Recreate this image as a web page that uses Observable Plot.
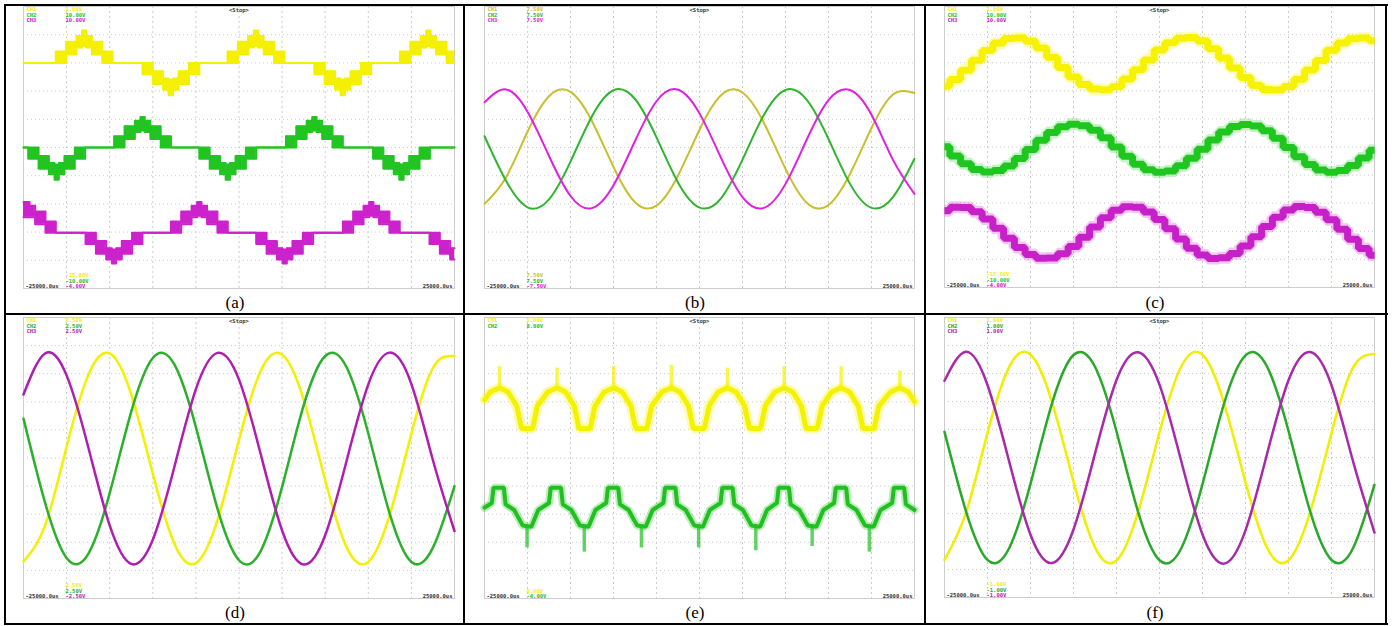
<!DOCTYPE html>
<html><head><meta charset="utf-8">
<script src="https://cdn.jsdelivr.net/npm/d3@7"></script>
<script src="https://cdn.jsdelivr.net/npm/@observablehq/plot@0.6"></script>
<style>
html,body{margin:0;padding:0;background:#fff;}
#page{position:relative;width:1397px;height:626px;overflow:hidden;background:#fff;}
.bar{position:absolute;background:#000;}
.cap{position:absolute;font-family:"Liberation Serif","Times New Roman",serif;font-size:17px;line-height:17px;color:#000;transform:translateX(-50%);white-space:nowrap;}
.scr{position:absolute;}
.scr svg{overflow:visible;display:block;}
</style></head><body><div id="page"></div>
<script>
// ================= DATA (time in ms, value in screen divisions) =================
const gridTimes = [-20,-15,-10,-5,0,5,10,15,20];
const gridDivs = [-4,-3,-2,-1,0,1,2,3,4];
const timeLabels = ["-25000.0us","25000.0us"];
const runLabel = "<Stop>";
const chNames = ["CH1","CH2","CH3"];
const panelTags = ["(a)","(b)","(c)","(d)","(e)","(f)"];
const scaleA = ["1.00V","10.00V","10.00V"], offA = ["-15.00V","-10.00V","-4.00V"];
const scaleB = ["7.50V","7.50V","7.50V"],  offB = ["7.50V","7.50V","-7.50V"];
const scaleC = ["1.00V","10.00V","10.00V"], offC = ["-15.00V","-10.00V","-4.00V"];
const scaleD = ["2.50V","2.50V","2.50V"],  offD = ["2.50V","2.50V","-2.50V"];
const scaleE = ["1.00V","8.00V"],          offE = ["8.00V","-4.00V"];
const scaleF = ["1.00V","1.00V","1.00V"],  offF = ["-1.00V","-1.00V","-1.00V"];

// (a) stepped multilevel traces: [time, band low, band high]
const aYellow = [
[-25,3.0,3.0],
[-21.26,3.0,3.4],[-20.06,3.3,3.75],[-18.86,3.55,3.95],[-18.21,3.6,4.15],[-17.71,3.55,3.95],[-17.06,3.3,3.75],[-15.86,3.0,3.4],[-14.66,3.0,3.0],
[-11.2,2.6,3.0],[-10.0,2.25,2.7],[-8.8,2.05,2.45],[-8.15,1.85,2.4],[-7.65,2.05,2.45],[-7.0,2.25,2.7],[-5.8,2.6,3.0],[-4.6,3.0,3.0],
[-1.33,3.0,3.4],[-0.13,3.3,3.75],[1.07,3.55,3.95],[1.72,3.6,4.15],[2.22,3.55,3.95],[2.87,3.3,3.75],[4.07,3.0,3.4],[5.27,3.0,3.0],
[8.74,2.6,3.0],[9.94,2.25,2.7],[11.14,2.05,2.45],[11.79,1.85,2.4],[12.29,2.05,2.45],[12.94,2.25,2.7],[14.14,2.6,3.0],[15.34,3.0,3.0],
[18.68,3.0,3.4],[19.88,3.3,3.75],[21.08,3.55,3.95],[21.73,3.6,4.15],[22.23,3.55,3.95],[22.88,3.3,3.75],[24.08,3.0,3.4],[25,3.0,3.4]
];
const aGreen = [
[-25,0,0],
[-24.45,-0.4,0],[-23.25,-0.75,-0.3],[-22.05,-0.95,-0.55],[-21.4,-1.14,-0.6],[-20.9,-0.95,-0.55],[-20.25,-0.75,-0.3],[-19.05,-0.4,0],[-17.85,0,0],
[-14.48,0,0.4],[-13.28,0.3,0.75],[-12.08,0.55,0.95],[-11.43,0.6,1.08],[-10.93,0.55,0.95],[-10.28,0.3,0.75],[-9.08,0,0.4],[-7.88,0,0],
[-4.6,-0.4,0],[-3.4,-0.75,-0.3],[-2.2,-0.95,-0.55],[-1.55,-1.14,-0.6],[-1.05,-0.95,-0.55],[-0.4,-0.75,-0.3],[0.8,-0.4,0],[2.0,0,0],
[5.45,0,0.4],[6.65,0.3,0.75],[7.85,0.55,0.95],[8.5,0.6,1.08],[9.0,0.55,0.95],[9.65,0.3,0.75],[10.85,0,0.4],[12.05,0,0],
[15.55,-0.4,0],[16.75,-0.75,-0.3],[17.95,-0.95,-0.55],[18.6,-1.14,-0.6],[19.1,-0.95,-0.55],[19.75,-0.75,-0.3],[20.95,-0.4,0],[22.15,0,0],
[25,0,0]
];
const aMagenta = [
[-25,-2.47,-1.93],[-24.3,-2.47,-2.07],[-23.65,-2.72,-2.27],[-22.45,-3.02,-2.62],[-21.25,-3.02,-3.02],
[-17.8,-3.42,-3.02],[-16.6,-3.77,-3.32],[-15.4,-3.97,-3.57],[-14.75,-4.11,-3.62],[-14.25,-3.97,-3.57],[-13.6,-3.77,-3.32],[-12.4,-3.42,-3.02],[-11.2,-3.02,-3.02],
[-7.9,-3.02,-2.62],[-6.7,-2.72,-2.27],[-5.5,-2.47,-2.07],[-4.85,-2.42,-1.93],[-4.35,-2.47,-2.07],[-3.7,-2.72,-2.27],[-2.5,-3.02,-2.62],[-1.3,-3.02,-3.02],
[2.0,-3.42,-3.02],[3.2,-3.77,-3.32],[4.4,-3.97,-3.57],[5.05,-4.11,-3.62],[5.55,-3.97,-3.57],[6.2,-3.77,-3.32],[7.4,-3.42,-3.02],[8.6,-3.02,-3.02],
[12.05,-3.02,-2.62],[13.25,-2.72,-2.27],[14.45,-2.47,-2.07],[15.1,-2.42,-1.93],[15.6,-2.47,-2.07],[16.25,-2.72,-2.27],[17.45,-3.02,-2.62],[18.65,-3.02,-3.02],
[22.1,-3.42,-3.02],[23.3,-3.77,-3.32],[24.5,-3.97,-3.57],[25,-3.97,-3.57]
];

// sample times (2.5 ms) for the sinusoidal panels
const tS = [-25,-22.5,-20,-17.5,-15,-12.5,-10,-7.5,-5,-2.5,0,2.5,5,7.5,10,12.5,15,17.5,20,22.5,25];
const bYellow  = [-2.00,-1.06,0.56,1.82,1.97,0.93,-0.69,-1.94,-2.06,-1.00,0.63,1.85,1.95,0.87,-0.76,-1.97,-2.04,-0.94,0.69,1.88,1.93];
const bGreen   = [0.40,-1.18,-2.12,-1.84,-0.50,1.11,2.03,1.72,0.36,-1.24,-2.13,-1.80,-0.43,1.16,2.04,1.68,0.30,-1.29,-2.14,-1.76,-0.40];
const bMagenta = [1.60,2.06,1.27,-0.30,-1.72,-2.15,-1.34,0.23,1.64,2.05,1.21,-0.37,-1.76,-2.14,-1.29,0.30,1.68,2.04,1.16,-0.44,-1.65];
const dYellow  = [-3.68,-2.40,0.40,2.94,3.72,2.26,-0.56,-3.05,-3.74,-2.21,0.64,3.09,3.68,2.07,-0.79,-3.19,-3.70,-2.01,0.87,3.21,3.63];
const dGreen   = [1.40,-1.59,-3.56,-3.42,-1.25,1.65,3.56,3.33,1.10,-1.80,-3.64,-3.32,-1.03,1.87,3.63,3.22,0.87,-2.00,-3.70,-3.19,-1.00];
const dMagenta = [2.26,3.72,2.94,0.40,-2.40,-3.77,-2.91,-0.32,2.45,3.74,2.79,0.16,-2.58,-3.79,-2.75,-0.08,2.62,3.75,2.63,-0.08,-2.60];
const fYellow  = [-3.66,-1.97,0.88,3.22,3.68,1.98,-0.86,-3.21,-3.68,-1.96,0.90,3.23,3.67,1.95,-0.89,-3.22,-3.67,-1.97,0.87,3.21,3.70];
const fGreen   = [0.92,-1.92,-3.66,-3.25,-0.94,1.93,3.66,3.24,0.93,-1.93,-3.67,-3.26,-0.95,1.92,3.65,3.25,0.95,-1.91,-3.66,-3.24,-0.97];
const fMagenta = [2.74,3.78,2.59,-0.12,-2.76,-3.77,-2.57,0.14,2.77,3.76,2.60,-0.10,-2.75,-3.79,-2.60,0.12,2.76,3.77,2.58,-0.13,-2.68];

// (c) sample times (1.25 ms), staircase traces
const tC = [-25,-23.75,-22.5,-21.25,-20,-18.75,-17.5,-16.25,-15,-13.75,-12.5,-11.25,-10,-8.75,-7.5,-6.25,-5,-3.75,-2.5,-1.25,0,1.25,2.5,3.75,5,6.25,7.5,8.75,10,11.25,12.5,13.75,15,16.25,17.5,18.75,20,21.25,22.5,23.75,25];
const cYellow = [2.16,2.40,2.73,3.09,3.43,3.70,3.86,3.88,3.76,3.52,3.19,2.83,2.49,2.22,2.06,2.04,
                 2.14,2.42,2.75,3.10,3.45,3.71,3.87,3.90,3.77,3.50,3.17,2.81,2.47,2.20,2.05,2.03,
                 2.15,2.41,2.74,3.08,3.44,3.70,3.85,3.88,3.78];
const cGreen = [0.01,-0.32,-0.60,-0.80,-0.89,-0.84,-0.68,-0.41,-0.09,0.24,0.52,0.72,0.81,0.76,0.60,0.33,
                0.00,-0.33,-0.61,-0.81,-0.90,-0.85,-0.67,-0.40,-0.08,0.25,0.53,0.73,0.80,0.75,0.58,0.31,
                -0.02,-0.35,-0.62,-0.82,-0.90,-0.84,-0.66,-0.39,-0.12];
const cMagenta = [-2.27,-2.14,-2.15,-2.30,-2.56,-2.89,-3.25,-3.58,-3.83,-3.96,-3.95,-3.80,-3.54,-3.21,-2.85,-2.52,
                  -2.25,-2.13,-2.14,-2.31,-2.58,-2.91,-3.27,-3.60,-3.84,-3.97,-3.94,-3.79,-3.52,-3.19,-2.83,-2.50,
                  -2.24,-2.12,-2.15,-2.32,-2.59,-2.93,-3.28,-3.61,-3.85];

// (e) traces: [time, value]
const eYellow = [
[-25,2.07],
[-24.35,2.35],[-23.25,2.5],[-22.25,2.35],[-21.25,1.85],[-20.7,1.05],[-19.4,1.05],[-18.85,1.85],
[-17.66,2.35],[-16.56,2.5],[-15.56,2.35],[-14.56,1.85],[-14.01,1.05],[-12.71,1.05],[-12.16,1.85],
[-11.07,2.35],[-9.97,2.5],[-8.97,2.35],[-7.97,1.85],[-7.42,1.05],[-6.12,1.05],[-5.57,1.85],
[-4.38,2.35],[-3.28,2.5],[-2.28,2.35],[-1.28,1.85],[-0.73,1.05],[0.57,1.05],[1.12,1.85],
[2.15,2.35],[3.25,2.5],[4.25,2.35],[5.25,1.85],[5.8,1.05],[7.1,1.05],[7.65,1.85],
[8.75,2.35],[9.85,2.5],[10.85,2.35],[11.85,1.85],[12.4,1.05],[13.7,1.05],[14.25,1.85],
[15.36,2.35],[16.46,2.5],[17.46,2.35],[18.46,1.85],[19.01,1.05],[20.31,1.05],[20.86,1.85],
[22.2,2.35],[23.3,2.5],[24.3,2.35],[25,2.0]
];
const eGreen = [
[-25,-1.77],
[-24.15,-1.6],[-23.95,-1.06],[-22.75,-1.06],[-22.55,-1.65],[-21.55,-1.85],[-20.55,-2.4],[-19.55,-2.45],[-18.75,-1.85],
[-17.5,-1.6],[-17.3,-1.06],[-16.1,-1.06],[-15.9,-1.65],[-14.9,-1.85],[-13.9,-2.4],[-12.9,-2.45],[-12.1,-1.85],
[-10.85,-1.6],[-10.65,-1.06],[-9.45,-1.06],[-9.25,-1.65],[-8.25,-1.85],[-7.25,-2.4],[-6.25,-2.45],[-5.45,-1.85],
[-4.2,-1.6],[-4.0,-1.06],[-2.8,-1.06],[-2.6,-1.65],[-1.6,-1.85],[-0.6,-2.4],[0.4,-2.45],[1.2,-1.85],
[2.45,-1.6],[2.65,-1.06],[3.85,-1.06],[4.05,-1.65],[5.05,-1.85],[6.05,-2.4],[7.05,-2.45],[7.85,-1.85],
[9.0,-1.6],[9.2,-1.06],[10.4,-1.06],[10.6,-1.65],[11.6,-1.85],[12.6,-2.4],[13.6,-2.45],[14.4,-1.85],
[15.65,-1.6],[15.85,-1.06],[17.05,-1.06],[17.25,-1.65],[18.25,-1.85],[19.25,-2.4],[20.25,-2.45],[21.05,-1.85],
[22.4,-1.6],[22.6,-1.06],[23.8,-1.06],[24.0,-1.65],[25,-1.85]
];
// (e) switching spikes: [time, from, to]
const eYellowSpikes = [[-23.25,2.45,3.25],[-16.56,2.45,3.2],[-9.97,2.45,3.25],[-3.28,2.45,3.3],[3.25,2.45,3.2],[9.85,2.45,3.25],[16.46,2.45,3.25],[23.3,2.45,3.1]];
const eGreenSpikes = [[-20.05,-2.4,-3.2],[-13.4,-2.4,-3.35],[-6.75,-2.4,-3.2],[-0.1,-2.4,-3.2],[6.55,-2.4,-3.3],[13.1,-2.4,-3.15],[19.75,-2.4,-3.35]];

// ================= RENDERING =================
const page = document.getElementById("page");
const MONO = "DejaVu Sans Mono, monospace";

function lbl(text, anchor, dx, dy, fill, textAnchor) {
  return Plot.text([text], {text: d => d, frameAnchor: anchor, dx, dy, fill,
    fontSize: 5.5, fontFamily: MONO, fontWeight: "bold", textAnchor: textAnchor || "start", lineAnchor: "middle"});
}
function labels(colors, scale, off) {
  const m = [];
  scale.forEach((s, i) => {
    m.push(lbl(chNames[i], "top-left", 3, 3 + 5.5 * i, colors[i]));
    m.push(lbl(s, "top-left", 42, 3 + 5.5 * i, colors[i]));
  });
  const n = off.length;
  off.forEach((s, i) => m.push(lbl(s, "bottom-left", 42, -2.5 - 5.2 * (n - 1 - i), colors[i])));
  m.push(lbl(timeLabels[0], "bottom-left", 2, -2.5, "#333"));
  m.push(lbl(timeLabels[1], "bottom-right", -2, -2.5, "#333", "end"));
  m.push(lbl(runLabel, "top", 0, 4, "#333", "middle"));
  return m;
}
function scope(w, h, marks) {
  return Plot.plot({
    width: w, height: h, margin: 0,
    x: {domain: [-25, 25], axis: null},
    y: {domain: [-5, 5], axis: null},
    style: {background: "#fff", overflow: "visible"},
    marks: [
      Plot.ruleX(gridTimes, {stroke: "#c6c6c6", strokeWidth: 0.9, strokeDasharray: "2,3"}),
      Plot.ruleY(gridDivs, {stroke: "#c6c6c6", strokeWidth: 0.9, strokeDasharray: "1,3"}),
      Plot.frame({stroke: "#cdcdcd", strokeWidth: 1}),
      ...marks
    ]
  });
}
const rows3 = arr => arr.map(([t, lo, hi]) => ({t, lo, hi}));
const rows2 = arr => arr.map(([t, v]) => ({t, v}));
const zipRows = (t, vals) => t.map((x, i) => ({t: x, v: vals[i]}));

function stepBand(arr, color) {
  const r = rows3(arr);
  return [
    Plot.areaY(r, {x: "t", y1: "lo", y2: "hi", curve: "step-after", fill: color}),
    Plot.line(r, {x: "t", y: "lo", curve: "step-after", stroke: color, strokeWidth: 2}),
    Plot.line(r, {x: "t", y: "hi", curve: "step-after", stroke: color, strokeWidth: 2})
  ];
}
function sineLines(t, series, colors, sw) {
  return series.map((vals, i) => Plot.line(zipRows(t, vals), {x: "t", y: "v", curve: "natural", stroke: colors[i], strokeWidth: sw}));
}
function stairLines(t, series, colors) {
  const m = [];
  series.forEach((vals, i) => {
    const r = zipRows(t, vals);
    m.push(Plot.line(r, {x: "t", y: "v", curve: "step", stroke: colors[i], strokeWidth: 12, strokeOpacity: 0.25, strokeLinejoin: "miter", strokeLinecap: "butt"}));
    m.push(Plot.line(r, {x: "t", y: "v", curve: "step", stroke: colors[i], strokeWidth: 7, strokeLinejoin: "miter", strokeLinecap: "butt"}));
  });
  return m;
}
function noisyLine(arr, spikes, color, core, halo) {
  const r = rows2(arr);
  const s = spikes.map(([t, a, b]) => ({t, a, b}));
  return [
    Plot.ruleX(s, {x: "t", y1: "a", y2: "b", stroke: color, strokeWidth: 3.5, strokeOpacity: 0.7}),
    Plot.line(r, {x: "t", y: "v", stroke: color, strokeWidth: halo, strokeOpacity: 0.3, strokeLinejoin: "miter"}),
    Plot.line(r, {x: "t", y: "v", stroke: color, strokeWidth: core, strokeLinejoin: "miter"})
  ];
}

const colA = ["#f4f000", "#22c422", "#cc22cc"];
const colB = ["#c8bf2e", "#30b530", "#e020e0"];
const colC = ["#f6f200", "#20c620", "#c820c8"];
const colD = ["#f3f000", "#2bb02b", "#b01eb0"];
const colE = ["#f5f200", "#20c020"];
const colF = ["#f1ee00", "#2aa82a", "#a82aa8"];

const screens = [
  {left: 23, top: 6, w: 431, h: 282, marks: [...stepBand(aYellow, colA[0]), ...stepBand(aGreen, colA[1]), ...stepBand(aMagenta, colA[2]), ...labels(colA, scaleA, offA)]},
  {left: 484, top: 6, w: 430, h: 282, marks: [...sineLines(tS, [bYellow, bGreen, bMagenta], colB, 2), ...labels(colB, scaleB, offB)]},
  {left: 944, top: 6, w: 430, h: 281, marks: [...stairLines(tC, [cYellow, cGreen, cMagenta], colC), ...labels(colC, scaleC, offC)]},
  {left: 23, top: 317, w: 431, h: 281, marks: [...sineLines(tS, [dYellow, dGreen, dMagenta], colD, 2.5), ...labels(colD, scaleD, offD)]},
  {left: 484, top: 317, w: 430, h: 281, marks: [...noisyLine(eYellow, eYellowSpikes, colE[0], 5, 10), ...noisyLine(eGreen, eGreenSpikes, colE[1], 4, 8), ...labels(colE, scaleE, offE)]},
  {left: 944, top: 317, w: 430, h: 280, marks: [...sineLines(tS, [fYellow, fGreen, fMagenta], colF, 2.5), ...labels(colF, scaleF, offF)]}
];
screens.forEach(s => {
  const div = document.createElement("div");
  div.className = "scr";
  div.style.left = s.left + "px";
  div.style.top = s.top + "px";
  div.appendChild(scope(s.w, s.h, s.marks));
  page.appendChild(div);
});

// table borders
const bars = [
  {l: 4, t: 4, w: 1384, h: 2}, {l: 4, t: 313, w: 1384, h: 2}, {l: 4, t: 623, w: 1384, h: 2},
  {l: 4, t: 4, w: 2, h: 621}, {l: 463, t: 4, w: 2, h: 621}, {l: 924, t: 4, w: 2, h: 621}, {l: 1385, t: 4, w: 2, h: 621}
];
bars.forEach(b => {
  const d = document.createElement("div");
  d.className = "bar";
  Object.assign(d.style, {left: b.l + "px", top: b.t + "px", width: b.w + "px", height: b.h + "px"});
  page.appendChild(d);
});
// captions
const capPos = [{x: 235, y: 294}, {x: 695, y: 294}, {x: 1155, y: 294}, {x: 235, y: 604}, {x: 695, y: 604}, {x: 1155, y: 604}];
panelTags.forEach((tag, i) => {
  const d = document.createElement("div");
  d.className = "cap";
  d.textContent = tag;
  d.style.left = capPos[i].x + "px";
  d.style.top = capPos[i].y + "px";
  page.appendChild(d);
});
</script></body></html>
